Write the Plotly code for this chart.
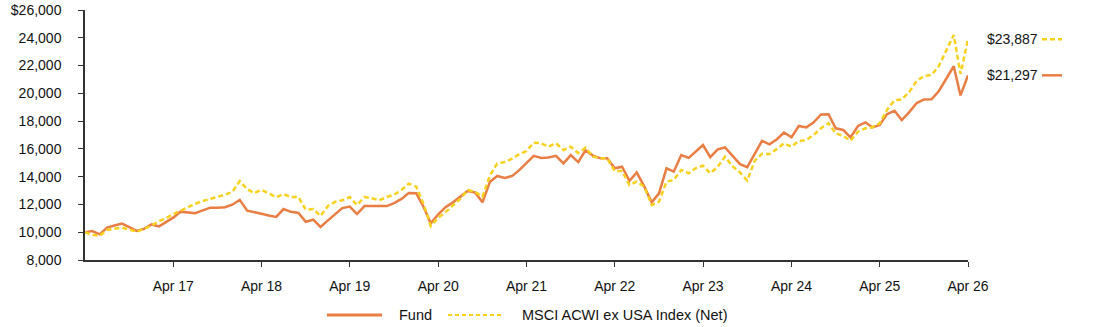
import plotly.graph_objects as go
import pandas as pd

dates = pd.date_range("2016-04-01", "2026-04-01", freq="MS")

fund = [
    10000, 10080, 9850, 10330, 10480, 10620, 10360, 10090, 10240, 10560, 10420, 10740,
    11050, 11480, 11430, 11370, 11570, 11770, 11770, 11800, 11980, 12330, 11550, 11420,
    11330, 11200, 11100, 11670, 11470, 11390, 10750, 10900, 10380, 10850, 11350, 11740,
    11850, 11310, 11880, 11890, 11890, 11880, 12100, 12400, 12820, 12800, 11800, 10640,
    11290, 11800, 12150, 12560, 12970, 12850, 12150, 13640, 14050, 13900, 14050, 14450,
    14950, 15500, 15350, 15380, 15500, 14960, 15550, 15050, 15900, 15520, 15320, 15320,
    14600, 14720, 13700, 14300, 13300, 12150, 12800, 14600, 14360, 15560, 15350, 15800,
    16280, 15400, 15970, 16100, 15500, 14900, 14680, 15680, 16570, 16330, 16700, 17180,
    16830, 17650, 17550, 17900, 18480, 18500, 17480, 17360, 16830, 17650, 17910, 17550,
    17720, 18500, 18750, 18080, 18650, 19300, 19560, 19570, 20150, 21050, 21950, 19850,
    21297,
]

index = [
    10000, 9800, 9750, 10160, 10250, 10330, 10200, 10040, 10250, 10470, 10800, 11000,
    11300, 11550, 11750, 12050, 12250, 12400, 12600, 12700, 12900, 13680, 13100, 12820,
    13040, 12800, 12530, 12750, 12530, 12530, 11620, 11670, 11170, 11890, 12200, 12300,
    12530, 11960, 12530, 12450, 12300, 12530, 12700, 13040, 13500, 13280, 12000, 10450,
    11050, 11450, 11900, 12400, 13040, 12900, 12560, 14100, 14950, 15050, 15300, 15600,
    15850, 16450, 16400, 16160, 16400, 15920, 16160, 15700, 16090, 15450, 15320, 15320,
    14400, 14410, 13400, 13640, 13280, 11960, 12200, 13640, 13760, 14480, 14240, 14600,
    14790, 14250, 14720, 15440, 14750, 14300, 13720, 15150, 15650, 15630, 16000, 16400,
    16160, 16560, 16640, 17000, 17480, 17850, 17120, 16930, 16590, 17240, 17480, 17550,
    17840, 18800, 19500, 19570, 20100, 20900, 21250, 21320, 21950, 23100, 24200, 21400,
    23887,
]

series_names = ["Fund", "MSCI ACWI ex USA Index (Net)"]

y_tickvals = [8000, 10000, 12000, 14000, 16000, 18000, 20000, 22000, 24000, 26000]
y_ticktext = ["8,000", "10,000", "12,000", "14,000", "16,000", "18,000", "20,000",
              "22,000", "24,000", "$26,000"]
x_tickvals = pd.date_range("2017-04-01", "2026-04-01", freq="12MS")
x_ticktext = ["Apr 17", "Apr 18", "Apr 19", "Apr 20", "Apr 21", "Apr 22", "Apr 23",
              "Apr 24", "Apr 25", "Apr 26"]

FUND_C = "#E97E45"
IDX_C = "#F7D11E"
FONT = "Liberation Sans, Arial, sans-serif"
TXT = "#111"

fig = go.Figure()
fig.add_trace(go.Scatter(x=dates, y=fund, mode="lines", name=series_names[0],
                         showlegend=False, line=dict(color=FUND_C, width=2.5)))
fig.add_trace(go.Scatter(x=dates, y=index, mode="lines", name=series_names[1],
                         showlegend=False, line=dict(color=IDX_C, width=2.5, dash="5px,3px")))

# end labels
for val, col, dash in [(index[-1], IDX_C, "5px,3px"), (fund[-1], FUND_C, "solid")]:
    fig.add_annotation(x=1.019, xref="paper", y=val, yref="y", text=f"${val:,}",
                       showarrow=False, xanchor="left", yanchor="middle",
                       font=dict(family=FONT, size=14, color=TXT))
    fig.add_shape(type="line", xref="paper", yref="y", x0=1.0838, x1=1.1065,
                  y0=val, y1=val, line=dict(color=col, width=2.5, dash=dash))

# legend drawn below the plot
LEG_Y = -0.22
legend_items = [
    (series_names[0], FUND_C, "solid", 3, 0.274, 0.3364, 0.3533),
    (series_names[1], IDX_C, "4px,3px", 2, 0.4111, 0.4734, 0.4926),
]
for name, col, dash, w, sx0, sx1, tx in legend_items:
    fig.add_shape(type="line", xref="paper", yref="paper", x0=sx0, x1=sx1,
                  y0=LEG_Y, y1=LEG_Y, line=dict(color=col, width=w, dash=dash))
    fig.add_annotation(x=tx, xref="paper", y=LEG_Y, yref="paper", text=name,
                       showarrow=False, xanchor="left", yanchor="middle",
                       font=dict(family=FONT, size=14.5, color=TXT))

fig.update_layout(
    width=1094, height=327,
    margin=dict(l=85, r=126, t=10, b=67, autoexpand=False),
    paper_bgcolor="white", plot_bgcolor="white",
    font=dict(family=FONT, size=14, color=TXT),
    showlegend=False,
    xaxis=dict(range=[dates[0], dates[-1]], tickvals=x_tickvals, ticktext=x_ticktext,
               showgrid=False, zeroline=False, showline=True, linecolor="#333", linewidth=1.5,
               ticks="outside", ticklen=5, tickcolor="#333", tickwidth=1.2,
               ticklabelstandoff=7, tickfont=dict(family=FONT, size=14, color=TXT)),
    yaxis=dict(range=[8000, 26000], tickvals=y_tickvals, ticktext=y_ticktext,
               showgrid=False, zeroline=False, showline=True, linecolor="#333", linewidth=1.5,
               ticks="outside", ticklen=5, tickcolor="#333", tickwidth=1.2,
               ticklabelstandoff=14, tickfont=dict(family=FONT, size=14, color=TXT)),
)

fig.write_html("out.html")
